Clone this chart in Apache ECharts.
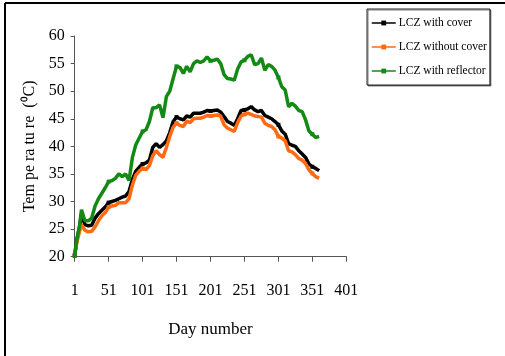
<!DOCTYPE html>
<html><head><meta charset="utf-8">
<script src="https://cdn.jsdelivr.net/npm/echarts@6/dist/echarts.min.js"></script>
<style>html,body{margin:0;padding:0;background:#fff}#c{width:505px;height:356px}</style>
</head><body><div id="c"></div>
<script>
var days = [1,4,8,11,16,21,26,31,36,41,46,51,56,61,66,71,76,81,86,91,96,101,106,111,116,121,126,131,136,141,146,151,156,161,166,171,176,181,186,191,196,201,206,211,216,221,226,231,236,241,246,251,256,261,266,271,276,281,286,291,296,301,306,311,316,321,326,331,336,341,346,351,356,361];
var withCover = [20.2,23,25.3,27.8,25.8,25.6,25.7,27,27.8,28.4,29,29.8,30,30.2,30.5,30.8,31,31.8,34,35.5,36.2,36.8,37,37.5,39.8,40.5,39.8,40.3,41,42.5,44.5,45.3,45,44.8,45.5,45.3,46,46,46,46.2,46.5,46.4,46.5,46.6,46.2,45.4,44.5,44.2,43.8,45,46.5,46.6,46.8,47.2,46.6,46.3,46.5,45.6,45.3,45,44.5,43.9,42.8,42.2,40.5,40.2,40,39.2,38.6,38,36.8,36.3,36,35.6];
var withoutCover = [20.3,22.5,24.5,25.8,24.8,24.5,24.6,25.4,26.5,27.4,28,29,29.2,29.3,29.8,29.8,29.8,30.5,33,34.8,35.5,36,35.8,36.5,38.3,39.2,38.5,38,39.8,41.8,43.5,44.2,43.8,43.6,44.6,44.3,45,45.1,45.1,45.3,45.6,45.5,45.6,45.7,45.5,43.9,43.3,43,42.7,44.3,45.5,45.8,46,45.8,45.5,45.4,45.3,44.2,43.8,43.6,43,41.8,41.5,41,39.2,39,38.5,37.8,37.5,36.9,35.7,35.1,34.5,34.2];
var withReflector = [20.2,23,25.5,28.5,26.5,26.5,27,29.2,30.5,31.5,32.5,33.6,33.8,34.2,35,34.5,35,33.8,38,40.3,41.5,42.7,43,44.5,47,47,47.5,45.2,49,50,52.3,54.5,54.3,53.2,54.5,53.5,55,55.5,55.2,55.5,56.2,55.5,55.6,55.8,55,53,52.3,52.2,52,54,55.3,55.6,56.3,56.6,54.8,55,56,53.8,54.8,54.5,53.8,52.5,50.8,50.2,47.2,47.8,47.3,46.5,46.3,44.8,42.8,42.2,41.6,41.8];
var seriesNames = ['LCZ with cover','LCZ without cover','LCZ with reflector'];
var seriesColors = ['#000000','#ff6a13','#138a13'];
var categories = [];
for (var d = 1; d <= 401; d++) categories.push(String(d));

function pairs(vals){ return days.map(function(d,i){ return [String(d), vals[i]]; }); }

var font = 'Liberation Serif';
var chart = echarts.init(document.getElementById('c'), null, {renderer:'canvas'});
function mk(name, vals, color, z){
  return {name:name, type:'line', data:pairs(vals), z:z,
    symbol:'rect', symbolSize:4, showSymbol:true,
    lineStyle:{color:color, width:3.5}, itemStyle:{color:color},
    emphasis:{disabled:true}, animation:false};
}
chart.setOption({
  animation:false,
  grid:{left:74.7, right:158.7, top:36, bottom:99.3},
  legend:{
    orient:'vertical', left:367, top:9,
    padding:[8,3,8,4], itemGap:12, itemWidth:24, itemHeight:6,
    borderColor:'#222', borderWidth:1, backgroundColor:'#fff',
    shadowColor:'rgba(0,0,0,0.5)', shadowOffsetX:1, shadowOffsetY:1,
    textStyle:{fontFamily:font, fontSize:11.5, color:'#000', padding:[0,0,0,-2]},
    data:seriesNames.map(function(n,i){ return {name:n, itemStyle:{color:seriesColors[i]}, lineStyle:{width:1.5}}; })
  },
  xAxis:{
    type:'category', data:categories, boundaryGap:false,
    name:'Day number', nameLocation:'middle', nameGap:64,
    nameTextStyle:{fontFamily:font, fontSize:17, color:'#000'},
    axisLine:{lineStyle:{color:'#555', width:1}},
    axisTick:{interval:49, length:5, lineStyle:{color:'#555'}},
    axisLabel:{interval:49, margin:26, fontFamily:font, fontSize:16, color:'#000'},
    splitLine:{show:false}
  },
  yAxis:{
    type:'value', min:20, max:60, interval:5,
    name:'Tem pe ra tu re  (\u2070C)', nameLocation:'middle', nameGap:31, nameRotate:90,
    nameTextStyle:{fontFamily:font, fontSize:16, color:'#000'},
    axisLine:{show:true, lineStyle:{color:'#555', width:1}},
    axisTick:{show:true, length:4, lineStyle:{color:'#555'}},
    axisLabel:{margin:10, fontFamily:font, fontSize:16, color:'#000'},
    splitLine:{show:false}
  },
  series:[
    mk(seriesNames[0], withCover, seriesColors[0], 2),
    mk(seriesNames[1], withoutCover, seriesColors[1], 3),
    mk(seriesNames[2], withReflector, seriesColors[2], 4)
  ],
  graphic:[
    {type:'line', shape:{x1:5, y1:3, x2:505, y2:3}, style:{stroke:'#000', lineWidth:2}},
    {type:'line', shape:{x1:5, y1:3, x2:5, y2:356}, style:{stroke:'#000', lineWidth:2}}
  ]
});
</script></body></html>
